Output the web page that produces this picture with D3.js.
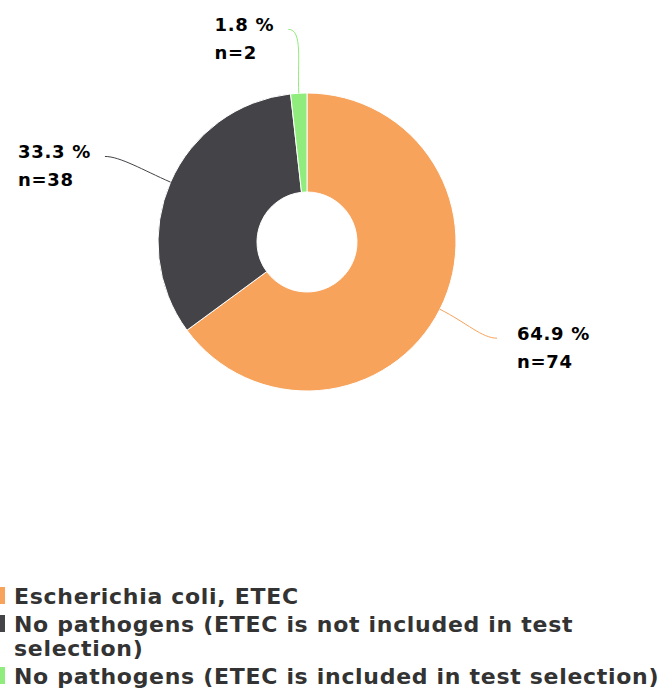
<!DOCTYPE html>
<meta charset="utf-8">
<script src="https://d3js.org/d3.v7.min.js"></script>
<style>
  body { margin: 0; background: #fff; }
  text { font-family: "DejaVu Sans", sans-serif; font-weight: bold; }
</style>
<div id="chart"></div>
<script>

// data
var categories = [
  "Escherichia coli, ETEC",
  "No pathogens (ETEC is not included in test selection)",
  "No pathogens (ETEC is included in test selection)"
];
var counts = [74, 38, 2];
var colors = ["#f7a35c", "#434348", "#90ed7d"];

var width = 666, height = 697;
var cx = 307, cy = 242, outerR = 149, innerR = 50, labelR = 213;

var svg = d3.select("#chart").append("svg")
    .attr("width", width)
    .attr("height", height);

var total = d3.sum(counts);
var fmt = d3.format(".1f");

var pie = d3.pie().sort(null).value(function(d) { return d; });
var arc = d3.arc().innerRadius(innerR).outerRadius(outerR);
var arcs = pie(counts);

var g = svg.append("g").attr("transform", "translate(" + cx + "," + cy + ")");

// slices
g.selectAll("path.slice")
  .data(arcs)
  .enter().append("path")
    .attr("class", "slice")
    .attr("d", arc)
    .attr("fill", function(d, i) { return colors[i]; })
    .attr("stroke", "#fff")
    .attr("stroke-width", 1);

// connectors + labels
arcs.forEach(function(d, i) {
  var a = (d.startAngle + d.endAngle) / 2;
  var sx = Math.sin(a), sy = -Math.cos(a);
  var side = sx >= 0 ? 1 : -1;
  var p0 = [sx * outerR, sy * outerR];
  var p1 = [sx * labelR + (side < 0 ? -7 : 0), sy * labelR];
  var c1 = [sx * (outerR + 30), sy * (outerR + 30)];
  var c2 = [p1[0] - side * 15, p1[1]];

  g.append("path")
    .attr("d", "M" + p0 + "C" + c1 + " " + c2 + " " + p1)
    .attr("fill", "none")
    .attr("stroke", colors[i])
    .attr("stroke-width", 1);

  var t = g.append("text")
    .attr("y", p1[1] + 2)
    .style("font-size", "18px")
    .style("letter-spacing", "0.7px")
    .attr("fill", "#000");
  var s1 = t.append("tspan").text(fmt(counts[i] / total * 100) + " %");
  var s2 = t.append("tspan").attr("dy", 28).text("n=" + counts[i]);
  var w = Math.max(s1.node().getComputedTextLength(), s2.node().getComputedTextLength());
  var x = side > 0 ? p1[0] + 20 : p1[0] - 14 - w;
  s1.attr("x", x);
  s2.attr("x", x);
});

// legend
var legend = svg.append("g");
var maxW = 655;
var y = 604;
categories.forEach(function(name, i) {
  var t = legend.append("text")
    .attr("x", 14)
    .attr("y", y)
    .attr("fill", "#333")
    .style("font-size", "22px")
    .style("letter-spacing", "0.7px");
  // simple word wrap
  var words = name.split(" "), line = [], lines = 0;
  var span = t.append("tspan").attr("x", 14);
  words.forEach(function(w) {
    line.push(w);
    span.text(line.join(" "));
    if (span.node().getComputedTextLength() > maxW && line.length > 1) {
      line.pop();
      span.text(line.join(" "));
      line = [w];
      lines++;
      span = t.append("tspan").attr("x", 14).attr("dy", 24).text(w);
    }
  });
  legend.append("rect")
    .attr("x", -8)
    .attr("y", y - 17)
    .attr("width", 13)
    .attr("height", 17)
    .attr("fill", colors[i]);
  y += 28 + lines * 24;
});

</script>
